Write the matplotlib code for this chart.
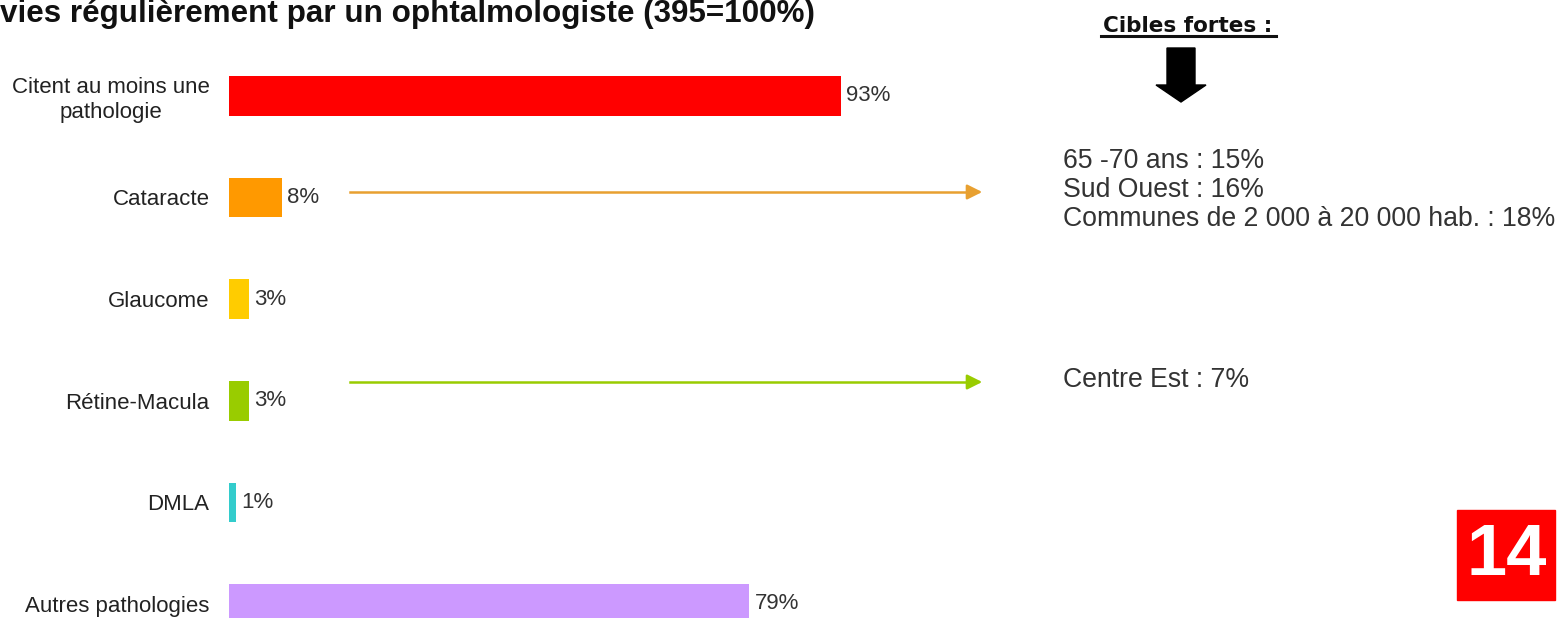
import matplotlib.pyplot as plt
from matplotlib.patches import Polygon, Rectangle

plt.rcParams['font.family'] = ['Liberation Sans', 'DejaVu Sans']

# ---- data ----
categories = ['Citent au moins une\npathologie', 'Cataracte', 'Glaucome',
              'Rétine-Macula', 'DMLA', 'Autres pathologies']
values = [93, 8, 3, 3, 1, 79]
bar_colors = ['#FF0000', '#FF9900', '#FFCC00', '#99CC00', '#33CCCC', '#CC99FF']

title = "vies régulièrement par un ophtalmologiste (395=100%)"
cibles_title = "Cibles fortes :"
cibles_cataracte = ["65 -70 ans : 15%", "Sud Ouest : 16%",
                    "Communes de 2 000 à 20 000 hab. : 18%"]
cibles_retine = ["Centre Est : 7%"]
page_num = "14"

W, H = 1561, 618


def fx(x):
    return x / W


def fy(y):
    return 1 - y / H


fig = plt.figure(figsize=(W / 100, H / 100), dpi=100)
fig.patch.set_facecolor('white')

# axes: x 0..100 spans 229..887 px, rows spaced ~101.6 px from y=96
ax = fig.add_axes([fx(229), 0, (887 - 229) / W, 1 - 45 / H])
ypos = list(range(len(categories)))
ax.barh(ypos, values, height=0.39, color=bar_colors)
ax.set_xlim(0, 100)
ax.set_ylim(5.138, -0.5)
ax.set_yticks(ypos)
ax.set_yticklabels(categories, fontsize=16, color='#222222')
for t in ax.get_yticklabels():
    t.set_multialignment('center')
    t.set_linespacing(1.25)
ax.tick_params(axis='y', length=0, pad=14)
ax.set_xticks([])
for s in ax.spines.values():
    s.set_visible(False)

for i, v in enumerate(values):
    ax.annotate(f"{v}%", (v, i), xytext=(4, 0), textcoords='offset points',
                va='center', ha='left', fontsize=16, color='#333333')

# title (cut at the left edge)
fig.text(fx(0), fy(22), title, fontsize=22.6, fontweight='bold',
         ha='left', va='baseline', color='#111111')

# arrows to the right-side notes
for yy, col in [(192, '#E8A030'), (382, '#99CC00')]:
    fig.add_artist(plt.Line2D([fx(350), fx(970)], [fy(yy), fy(yy)],
                              color=col, lw=1.8))
    ax.annotate('', xy=(fx(985), fy(yy)), xytext=(fx(965), fy(yy)),
                xycoords='figure fraction', textcoords='figure fraction',
                arrowprops=dict(arrowstyle='-|>,head_length=0.9,head_width=0.45',
                                color=col, lw=1.8))

# "Cibles fortes :" header with underline and thick down arrow
fig.text(fx(1188), fy(32), cibles_title, fontsize=15.5, fontweight='bold',
         family='DejaVu Sans', ha='center', va='baseline', color='#111111')
fig.add_artist(plt.Line2D([fx(1101), fx(1276)], [fy(36), fy(36)],
                          color='#111111', lw=2.2))
cx = 1181
arrow_px = [(cx - 14, 48), (cx + 14, 48), (cx + 14, 85), (cx + 25, 85),
            (cx, 102), (cx - 25, 85), (cx - 14, 85)]
fig.patches.append(Polygon([(fx(x), fy(y)) for x, y in arrow_px], closed=True,
                           transform=fig.transFigure, color='black'))

for k, line in enumerate(cibles_cataracte):
    fig.text(fx(1063), fy(168 + 29 * k), line, fontsize=19.2,
             ha='left', va='baseline', color='#333333')
for k, line in enumerate(cibles_retine):
    fig.text(fx(1063), fy(387 + 29 * k), line, fontsize=19.2,
             ha='left', va='baseline', color='#333333')

# page number box
fig.patches.append(Rectangle((fx(1457), fy(600)), (1555 - 1457) / W, 90 / H,
                             transform=fig.transFigure, color='#FF0000'))
fig.text(fx(1507), fy(556), page_num, fontsize=52, fontweight='bold',
         ha='center', va='center', color='white')

fig.savefig('out.png', dpi=100)
